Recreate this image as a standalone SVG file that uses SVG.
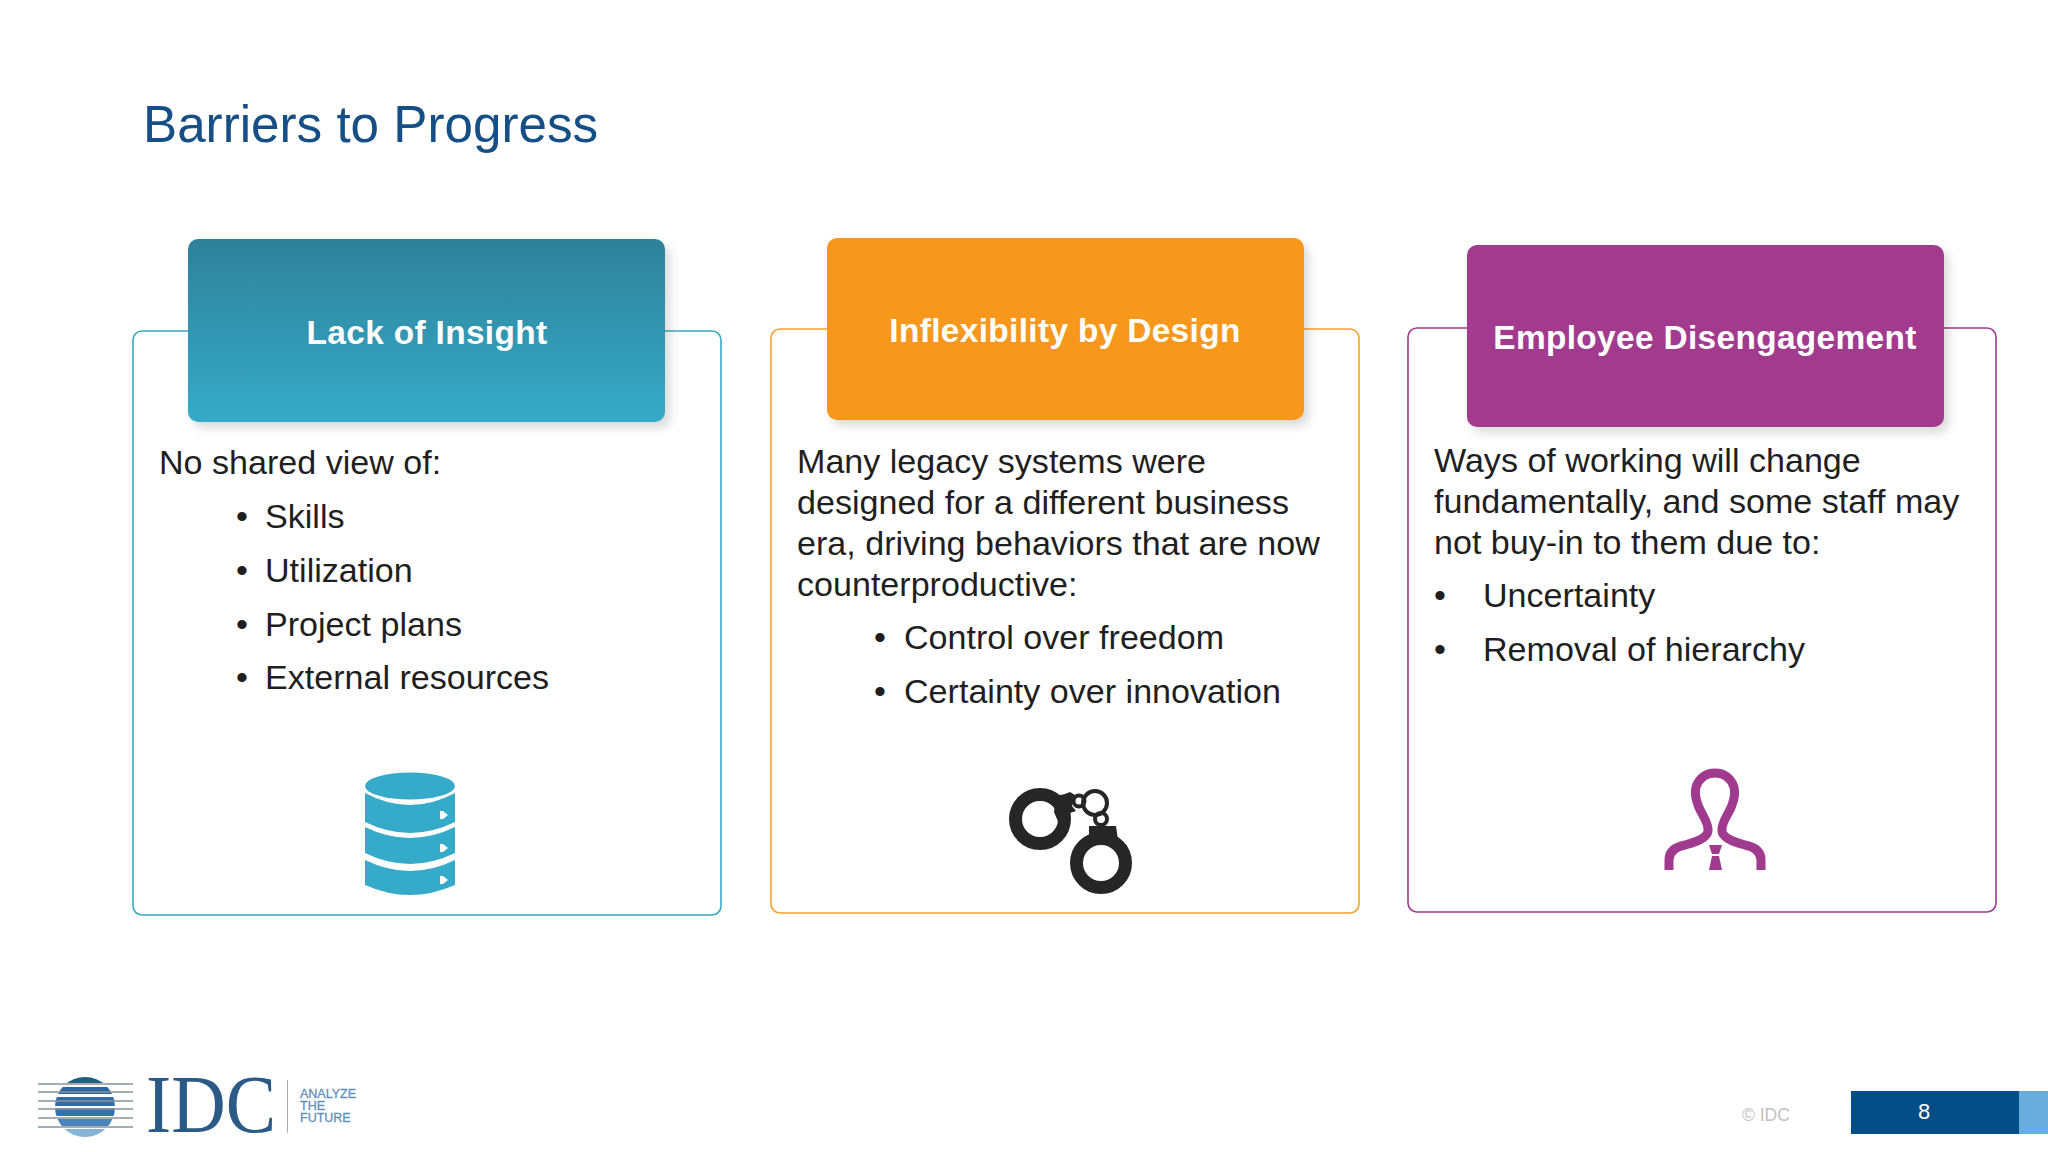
<svg xmlns="http://www.w3.org/2000/svg" width="2048" height="1152" viewBox="0 0 2048 1152">
<defs>
<linearGradient id="g1" x1="0" y1="0" x2="0" y2="1"><stop offset="0" stop-color="#2e8199"/><stop offset="1" stop-color="#36abc9"/></linearGradient>
<filter id="sh" x="-5%" y="-5%" width="112%" height="115%"><feDropShadow dx="5" dy="6" stdDeviation="5" flood-color="#000" flood-opacity="0.14"/></filter>
<clipPath id="c"><circle cx="85" cy="1107" r="30"/></clipPath>
</defs>
<style>
text{font-family:"Liberation Sans",Arial,sans-serif}
.t{font-size:34.1px;fill:#1f1f1f}
.h{font-size:33.4px;font-weight:bold;fill:#fff;text-anchor:middle;letter-spacing:.35px}
.box{fill:#fff;stroke-width:1.6}
.hd{filter:url(#sh)}
</style>
<rect width="2048" height="1152" fill="#fff"/>
<text x="143" y="142" font-size="51.2" fill="#154f85">Barriers to Progress</text>

<g id="node-insight">
<rect class="box" x="133" y="331" width="588" height="584" rx="9" stroke="#39a9c6"/>
<rect class="hd" x="188" y="239" width="477" height="183" rx="10" fill="url(#g1)"/>
<text class="h" x="427" y="344">Lack of Insight</text>
<text class="t" x="159" y="474">No shared view of:</text>
<text class="t" x="236" y="528">•</text><text class="t" x="265" y="528">Skills</text>
<text class="t" x="236" y="582">•</text><text class="t" x="265" y="582">Utilization</text>
<text class="t" x="236" y="636">•</text><text class="t" x="265" y="636">Project plans</text>
<text class="t" x="236" y="689">•</text><text class="t" x="265" y="689">External resources</text>
<g id="icon-db" fill="#36abc9">
<ellipse cx="410" cy="786" rx="45" ry="13.5"/>
<path d="M365 793q45 24 90 0v29q-45 22-90 0z"/>
<path d="M365 827q45 22 90 0v26q-45 22-90 0z"/>
<path d="M365 860q45 22 90 0v25q-45 20-90 0z"/>
<path fill="#fff" d="M440 811h3l5 4-5 4h-3zM440 844h3l5 4-5 4h-3zM440 876h3l5 4-5 4h-3z"/>
</g>
</g>

<g id="node-inflexibility">
<rect class="box" x="771" y="329" width="588" height="584" rx="9" stroke="#f6a02e"/>
<rect class="hd" x="827" y="238" width="477" height="182" rx="10" fill="#f7971e"/>
<text class="h" x="1065" y="342">Inflexibility by Design</text>
<text class="t" x="797" y="473">Many legacy systems were</text>
<text class="t" x="797" y="514">designed for a different business</text>
<text class="t" x="797" y="555">era, driving behaviors that are now</text>
<text class="t" x="797" y="596">counterproductive:</text>
<text class="t" x="874" y="649">•</text><text class="t" x="904" y="649">Control over freedom</text>
<text class="t" x="874" y="703">•</text><text class="t" x="904" y="703">Certainty over innovation</text>
<g id="icon-cuffs" fill="none" stroke="#262626">
<circle cx="1040" cy="819" r="24.5" stroke-width="13"/>
<circle cx="1101" cy="863" r="24.5" stroke-width="13"/>
<circle cx="1079" cy="801" r="5.5" stroke-width="4"/>
<circle cx="1095" cy="803" r="12" stroke-width="4"/>
<circle cx="1101" cy="819" r="6" stroke-width="4"/>
<path fill="#262626" stroke="none" d="M1056 796l9-2 5-2 5 3-2 5-1 6 4 5-6 2-6 5-4 8-6-14zM1089 826h27l2 14 10 6-18-6-18 6-3-6z"/>
</g>
</g>

<g id="node-disengagement">
<rect class="box" x="1408" y="328" width="588" height="584" rx="9" stroke="#a03a8f"/>
<rect class="hd" x="1467" y="245" width="477" height="182" rx="10" fill="#a23a8e"/>
<text class="h" x="1705" y="349">Employee Disengagement</text>
<text class="t" x="1434" y="472">Ways of working will change</text>
<text class="t" x="1434" y="513">fundamentally, and some staff may</text>
<text class="t" x="1434" y="554">not buy-in to them due to:</text>
<text class="t" x="1434" y="607">•</text><text class="t" x="1483" y="607">Uncertainty</text>
<text class="t" x="1434" y="661">•</text><text class="t" x="1483" y="661">Removal of hierarchy</text>
<g id="icon-person">
<path fill="none" stroke="#a03a8f" stroke-width="9" d="M1669 870v-10c0-8 6-13 16-15 12-3 22-7 23-14 1-9-7-17-10-26-3-8-3-14-2-18 3-9 10-14 19-14s16 5 19 14c1 4 1 10-2 18-3 9-11 17-10 26 1 7 11 11 23 14 10 2 16 7 16 15v10"/>
<path fill="#a03a8f" d="M1709 845h13l-3 9h-7zM1712 856h7l3 14h-13z"/>
</g>
</g>

<g id="footer">
<g id="logo">
<g clip-path="url(#c)">
<rect x="50" y="1076" width="70" height="7" fill="#1e5f7f"/>
<rect x="50" y="1087" width="70" height="7" fill="#2a66a3"/>
<rect x="50" y="1097" width="70" height="9" fill="#2f6ca8"/>
<rect x="50" y="1108" width="70" height="8" fill="#2f73b0"/>
<rect x="50" y="1119" width="70" height="7" fill="#4a86bd"/>
<rect x="50" y="1129" width="70" height="9" fill="#86b4d8"/>
</g>
<g stroke="#8c929a" stroke-width="1.5">
<path d="M38 1084h95M38 1092h95M38 1101h95M38 1109h95M38 1118h95M38 1127h95"/>
</g>
<text x="146" y="1132" font-size="82" textLength="130" lengthAdjust="spacingAndGlyphs" style="font-family:'Liberation Serif',serif" fill="#2a5a85">IDC</text>
<rect x="287" y="1080" width="1" height="53" fill="#a8adb3"/>
<text x="300" y="1098" font-size="12.5" fill="#5f8fb8" stroke="#5f8fb8" stroke-width=".3">ANALYZE</text>
<text x="300" y="1110" font-size="12.5" fill="#5f8fb8" stroke="#5f8fb8" stroke-width=".3">THE</text>
<text x="300" y="1122" font-size="12.5" fill="#5f8fb8" stroke="#5f8fb8" stroke-width=".3">FUTURE</text>
</g>
<text x="1742" y="1121" font-size="17.5" fill="#c4c0c4">© IDC</text>
<rect x="1851" y="1091" width="168" height="43" fill="#054d87"/>
<rect x="2019" y="1091" width="29" height="43" fill="#69addf"/>
<text x="1924" y="1119" font-size="22" fill="#fff" text-anchor="middle">8</text>
</g>
</svg>
